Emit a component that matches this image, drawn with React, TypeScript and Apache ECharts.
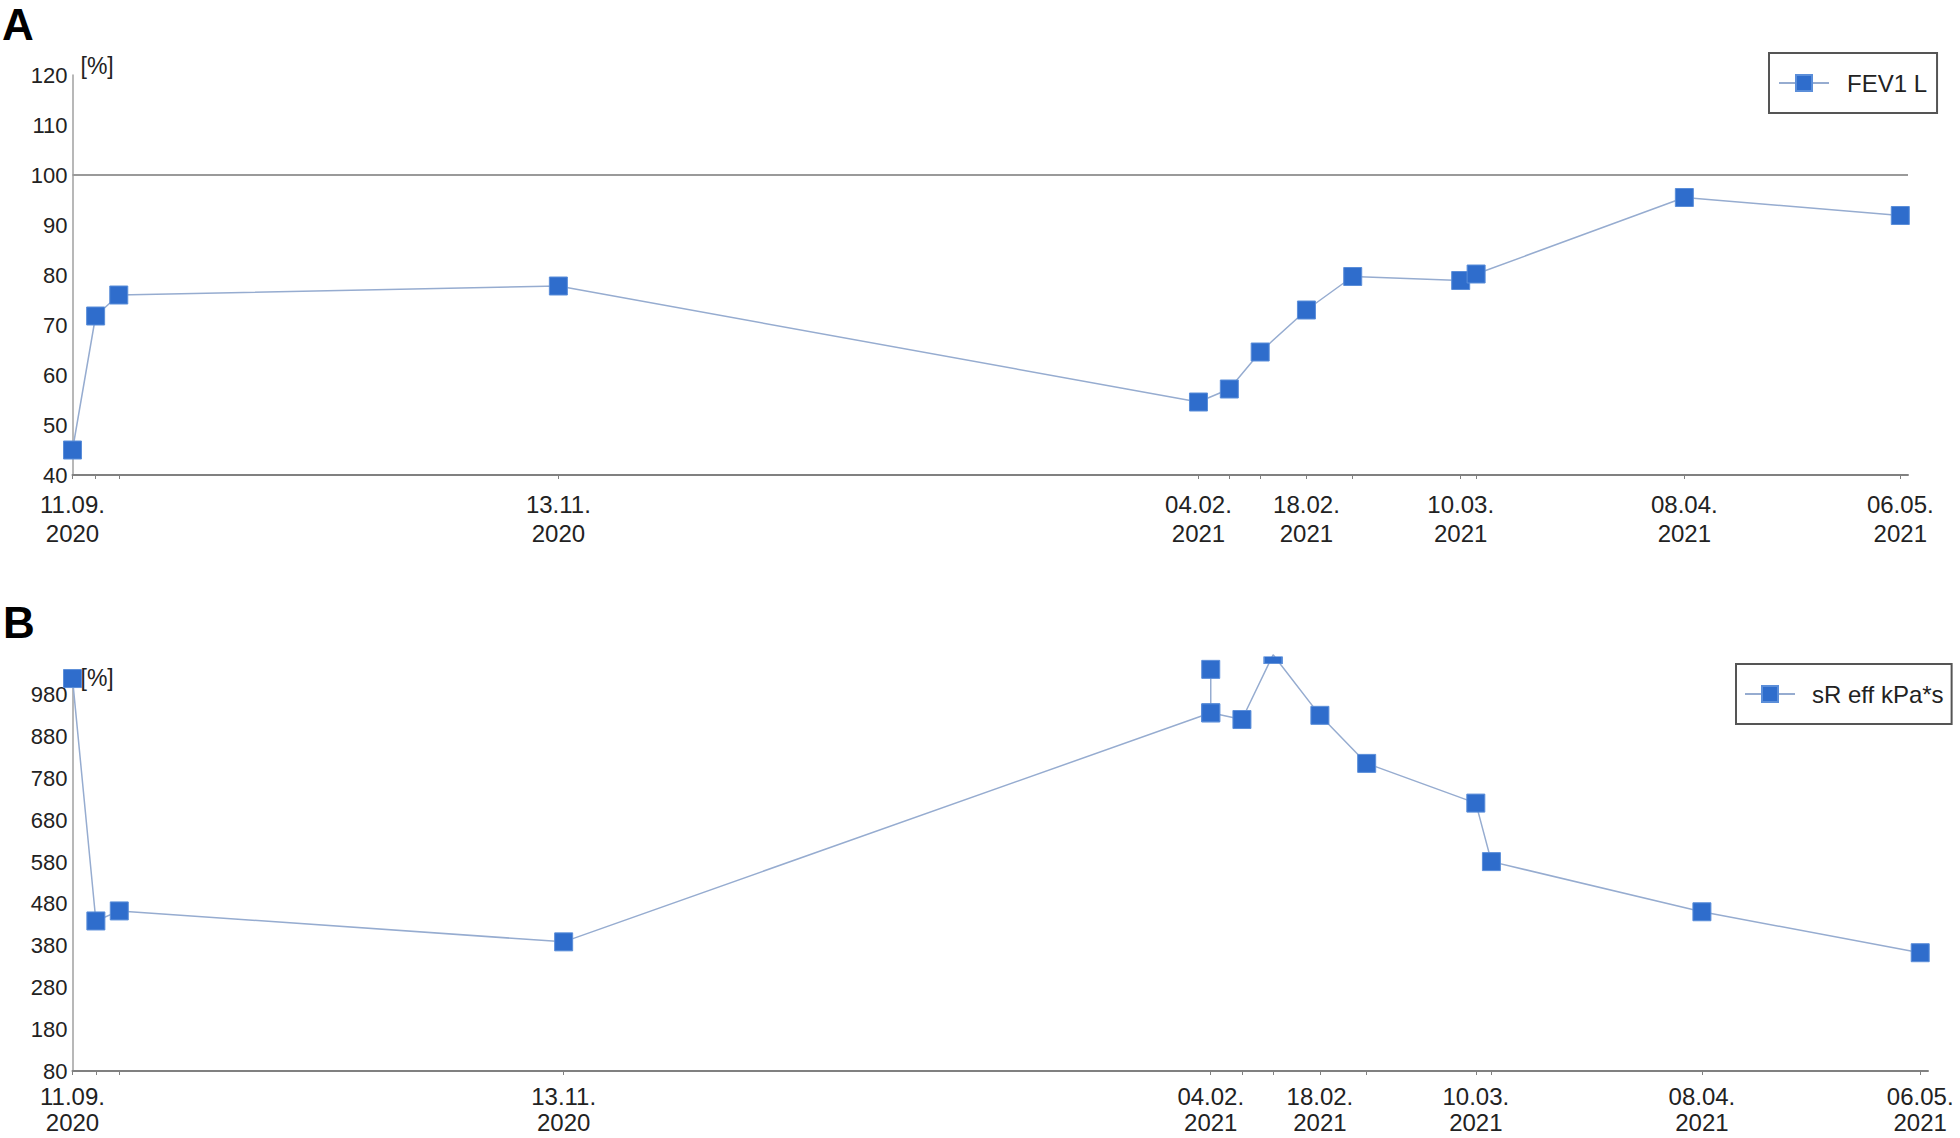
import React, { useEffect, useRef } from "react";
import * as echarts from "echarts";

// ---- data ----
const fevDates = [
  "2020-09-11", "2020-09-14", "2020-09-17", "2020-11-13", "2021-02-04", "2021-02-08",
  "2021-02-12", "2021-02-18", "2021-02-24", "2021-03-10", "2021-03-12", "2021-04-08", "2021-05-06",
];
const fevValues = [45, 71.8, 76, 77.8, 54.6, 57.2, 64.6, 73, 79.7, 78.9, 80.2, 95.5, 91.9];

const sreffDates = [
  "2020-09-11", "2020-09-14", "2020-09-17", "2020-11-13", "2021-02-04", "2021-02-08",
  "2021-02-12", "2021-02-18", "2021-02-24", "2021-03-10", "2021-03-12", "2021-04-08", "2021-05-06",
];
const sreffValues = [1019, 439, 463, 389, 937, 921, 1076, 931, 816, 721, 581, 461, 363];
// second measurement on 04.02.2021 (drawn as a spur from the first one)
const sreffSpurDate = "2021-02-04";
const sreffSpurValue = 1041;

const xLabelDates = ["2020-09-11", "2020-11-13", "2021-02-04", "2021-02-18", "2021-03-10", "2021-04-08", "2021-05-06"];
const fevYTicks = [40, 50, 60, 70, 80, 90, 100, 110, 120];
const sreffYTicks = [80, 180, 280, 380, 480, 580, 680, 780, 880, 980];
const xStart = "2020-09-11";
const xEnd = "2021-05-07";

const FEV_NAME = "FEV1 L";
const SREFF_NAME = "sR eff kPa*s";

// ---- helpers ----
const ts = (s: string) => Date.parse(s + "T00:00:00Z");
const pad = (n: number) => (n < 10 ? "0" + n : "" + n);
const fmtDate = (v: number) => {
  const d = new Date(v);
  return `${pad(d.getUTCDate())}.${pad(d.getUTCMonth() + 1)}.\n${d.getUTCFullYear()}`;
};

const FONT = "'Liberation Sans', Arial, sans-serif";
const MARK = "#2f6dcc";
const MARK_BORDER = "#5b8ed9";
const LINE = "#96acd0";
const CLIP_TOP_B = 1072; // values above this are cut by the plot frame in panel B

export default function App() {
  const ref = useRef<HTMLDivElement>(null);

  useEffect(() => {
    if (!ref.current) return;
    const chart = echarts.init(ref.current, undefined, { renderer: "svg" });

    const xAxisBase = (gridIndex: number, dates: string[], margin: number, lineHeight: number) => ({
      type: "value",
      gridIndex,
      min: ts(xStart),
      max: ts(xEnd),
      axisLine: { show: true, onZero: false, lineStyle: { color: "#808080", width: 2 } },
      axisTick: {
        show: true,
        length: 4,
        customValues: dates.map(ts),
        lineStyle: { color: "#808080", width: 1 },
      },
      splitLine: { show: false },
      axisLabel: {
        customValues: xLabelDates.map(ts),
        formatter: (v: number) => fmtDate(v),
        fontSize: 24,
        lineHeight,
        color: "#222",
        fontFamily: FONT,
        margin,
        hideOverlap: false,
      },
    });

    const yAxisBase = (gridIndex: number, min: number, max: number, ticks: number[]) => ({
      type: "value",
      gridIndex,
      min,
      max,
      name: "[%]",
      nameLocation: "end",
      nameGap: 9,
      nameTextStyle: {
        fontSize: 23,
        color: "#222",
        fontFamily: FONT,
        align: "left",
        verticalAlign: "middle",
        padding: [0, 0, 0, 8],
      },
      axisLine: { show: true, lineStyle: { color: "#a0a0a0", width: 1.5 } },
      axisTick: { show: false },
      splitLine: { show: false },
      axisLabel: {
        customValues: ticks,
        fontSize: 22,
        color: "#222",
        fontFamily: FONT,
        margin: 5,
      },
    });

    const seriesStyle = {
      type: "line",
      symbol: "rect",
      symbolSize: 18,
      clip: false,
      lineStyle: { color: LINE, width: 1.5 },
      itemStyle: { color: MARK, borderColor: MARK_BORDER, borderWidth: 1 },
      emphasis: { disabled: true },
    };

    const fevData = fevDates.map((d, i) => [ts(d), fevValues[i]]);
    const sreffData = sreffDates.map((d, i) => {
      const v = sreffValues[i];
      if (v > CLIP_TOP_B) {
        return { value: [ts(d), v], symbolSize: [18, 7], symbolOffset: [0, 5.5] };
      }
      return { value: [ts(d), v] };
    });
    const spurIdx = sreffDates.indexOf(sreffSpurDate);
    const spurData = [
      [ts(sreffDates[spurIdx]), sreffValues[spurIdx]],
      [ts(sreffSpurDate), sreffSpurValue],
    ];

    const legendBase = {
      orient: "horizontal",
      itemWidth: 50,
      itemHeight: 20,
      borderColor: "#555",
      borderWidth: 2,
      borderRadius: 0,
      backgroundColor: "#fff",
      selectedMode: false,
    };

    chart.setOption({
      animation: false,
      backgroundColor: "#fff",
      grid: [
        { left: 72.5, top: 75, width: 1835.5, height: 400, containLabel: false, outerBoundsMode: "none" },
        { left: 72.5, top: 686.5, width: 1855.5, height: 384.5, containLabel: false, outerBoundsMode: "none" },
      ],
      xAxis: [xAxisBase(0, fevDates, 15, 29), xAxisBase(1, sreffDates, 12, 26)],
      yAxis: [yAxisBase(0, 40, 120, fevYTicks), yAxisBase(1, 80, 1000, sreffYTicks)],
      legend: [
        {
          ...legendBase,
          data: [FEV_NAME],
          left: 1769,
          top: 53,
          padding: [18, 10, 18, 9],
          textStyle: { fontSize: 24, color: "#222", fontFamily: FONT, padding: [0, 0, 0, 13] },
        },
        {
          ...legendBase,
          data: [SREFF_NAME],
          left: 1736,
          top: 664,
          padding: [18, 8, 18, 8],
          textStyle: { fontSize: 24, color: "#222", fontFamily: FONT, padding: [0, 0, 0, 12] },
        },
      ],
      graphic: [
        {
          type: "text",
          x: 2,
          y: 2,
          style: { text: "A", fontSize: 44, fontWeight: "bold", fontFamily: FONT, fill: "#000", verticalAlign: "top" },
        },
        {
          type: "text",
          x: 3,
          y: 600,
          style: { text: "B", fontSize: 44, fontWeight: "bold", fontFamily: FONT, fill: "#000", verticalAlign: "top" },
        },
      ],
      series: [
        {
          ...seriesStyle,
          name: FEV_NAME,
          xAxisIndex: 0,
          yAxisIndex: 0,
          data: fevData,
          markLine: {
            silent: true,
            symbol: "none",
            label: { show: false },
            lineStyle: { color: "#9a9a9a", width: 2, type: "solid" },
            data: [{ yAxis: 100 }],
          },
        },
        {
          ...seriesStyle,
          name: SREFF_NAME,
          xAxisIndex: 1,
          yAxisIndex: 1,
          data: sreffData,
        },
        {
          ...seriesStyle,
          name: "spur",
          xAxisIndex: 1,
          yAxisIndex: 1,
          data: spurData,
        },
      ],
    });

    return () => chart.dispose();
  }, []);

  return (
    <div
      ref={ref}
      style={{ position: "absolute", left: 0, top: 0, width: 1960, height: 1138, background: "#fff" }}
    />
  );
}
